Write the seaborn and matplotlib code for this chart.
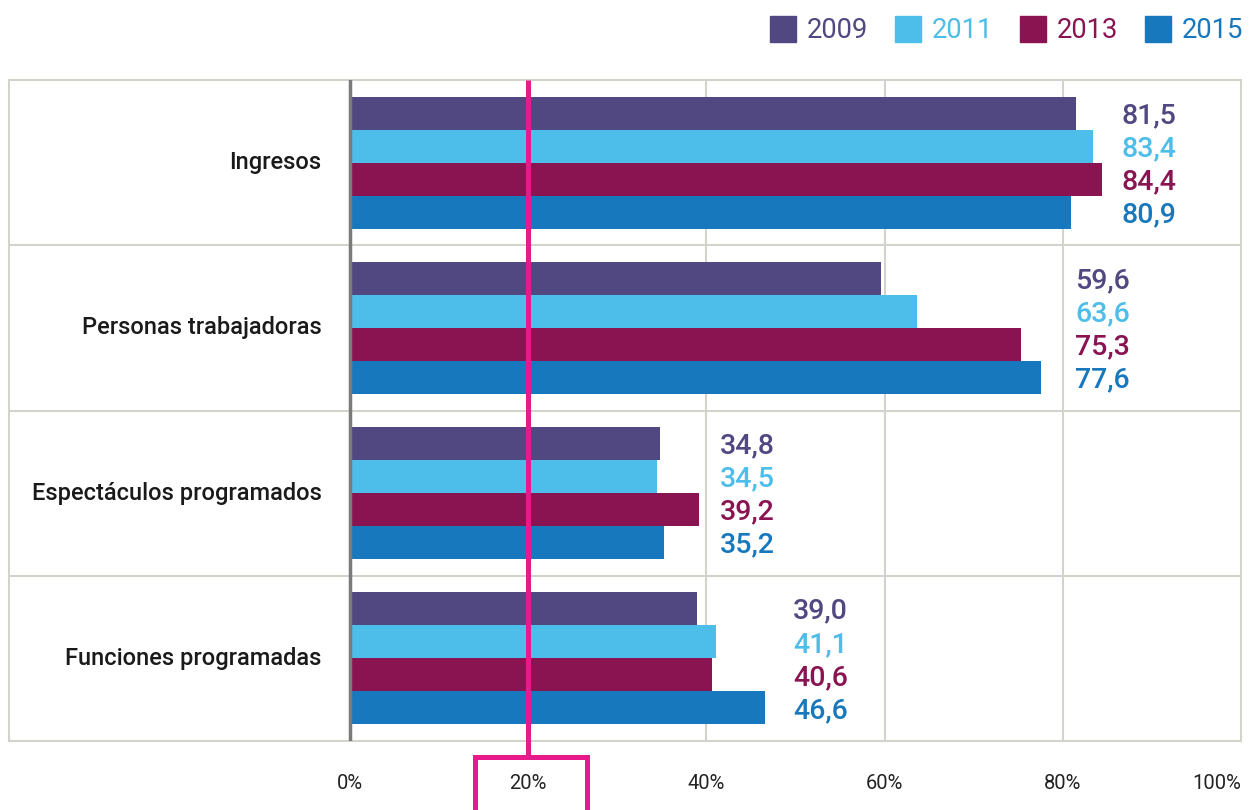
import matplotlib
matplotlib.use("Agg")
import matplotlib.pyplot as plt
import matplotlib.transforms as mtrans
import seaborn as sns
import pandas as pd
from matplotlib.lines import Line2D
from matplotlib import font_manager

categories = ["Ingresos", "Personas trabajadoras", "Espectáculos programados", "Funciones programadas"]
years = ["2009", "2011", "2013", "2015"]
v2009 = [81.5, 59.6, 34.8, 39.0]
v2011 = [83.4, 63.6, 34.5, 41.1]
v2013 = [84.4, 75.3, 39.2, 40.6]
v2015 = [80.9, 77.6, 35.2, 46.6]
tick_values = [0, 20, 40, 60, 80, 100]
tick_labels = ["0%", "20%", "40%", "60%", "80%", "100%"]

colors = ["#514881", "#4DBDEA", "#8A1452", "#1878BE"]
pink = "#E8198B"
gridc = "#D3D2CD"
label_gap = [2.2, 3.8, 2.3, 3.1]

sns.set_style("white")
names = {f.name for f in font_manager.fontManager.ttflist}
fam = [f for f in ["Liberation Sans Narrow", "Roboto", "DejaVu Sans"] if f in names]
plt.rcParams["font.family"] = fam

series = [v2009, v2011, v2013, v2015]
rows = []
for y, vals in zip(years, series):
    for c, v in zip(categories, vals):
        rows.append({"cat": c, "year": y, "val": v})
df = pd.DataFrame(rows)

W, H = 1258, 810
fig = plt.figure(figsize=(W / 100, H / 100), dpi=100)
left_px, right_px, top_px, bot_px = 9, 1241, 80, 741
ax = fig.add_axes([left_px / W, 1 - bot_px / H, (right_px - left_px) / W, (bot_px - top_px) / H])

sns.barplot(data=df, y="cat", x="val", hue="year", orient="h", palette=colors,
            order=categories, hue_order=years, width=0.8, saturation=1,
            ax=ax, legend=False, edgecolor="none")

px_per = (right_px - 350) / 100.0
xmin = -(350 - left_px) / px_per
ax.set_xlim(xmin, 100)
ax.set_ylim(3.5, -0.5)
ax.set_xlabel("")
ax.set_ylabel("")
ax.set_yticks([])
ax.set_xticks(tick_values)
ax.set_xticklabels(tick_labels, fontsize=14.5, color="#222222")
ax.tick_params(axis="x", length=0, pad=24)
ax.get_xticklabels()[-1].set_horizontalalignment("right")
ax.get_xticklabels()[-1].set_x(100.2)

for s in ax.spines.values():
    s.set_color(gridc)
    s.set_linewidth(1.5)

for yb in [0.5, 1.5, 2.5]:
    ax.axhline(yb, color=gridc, lw=1.5, zorder=0)
for xv in [40, 60, 80]:
    ax.axvline(xv, color=gridc, lw=1.5, zorder=0)
ax.axvline(0, color="#7A7A7A", lw=2.5, zorder=3)

# category labels
for i, c in enumerate(categories):
    ax.text(-3.2, i, c, ha="right", va="center", fontsize=17, fontweight="medium", color="#1a1a1a")

# value labels
offs = [-0.285, -0.085, 0.115, 0.315]
for i in range(len(categories)):
    mx = max(s[i] for s in series)
    for j, s in enumerate(series):
        ax.text(mx + label_gap[i], i + offs[j], f"{s[i]:.1f}".replace(".", ","), ha="left", va="center",
                fontsize=20.5, fontweight="medium", color=colors[j])

# pink highlight line and box around 20%
tr = mtrans.blended_transform_factory(ax.transData, ax.transAxes)
yb_line = -(757 - bot_px) / (bot_px - top_px)
ax.plot([20, 20], [1.0, yb_line], color=pink, lw=3.6, transform=tr, clip_on=False, zorder=5,
        solid_capstyle="butt")
x0 = (475 - 350) / px_per
x1 = (587 - 350) / px_per
ylow = -(815 - bot_px) / (bot_px - top_px)
ax.plot([x0, x0, x1, x1], [ylow, yb_line, yb_line, ylow], color=pink, lw=3.6, transform=tr,
        clip_on=False, zorder=5, solid_joinstyle="miter")

# legend
handles = [Line2D([0], [0], marker="s", linestyle="none", markersize=19.4, markerfacecolor=c,
                  markeredgecolor=c) for c in colors]
leg = fig.legend(handles, years, loc="center right", bbox_to_anchor=(1243 / W, 1 - 31 / H), ncol=4,
                 frameon=False, fontsize=19.7, handletextpad=0.37, columnspacing=0.95,
                 handlelength=1.0, borderpad=0, borderaxespad=0)
for t, c in zip(leg.get_texts(), colors):
    t.set_color(c)

fig.savefig("out.png", dpi=100)
